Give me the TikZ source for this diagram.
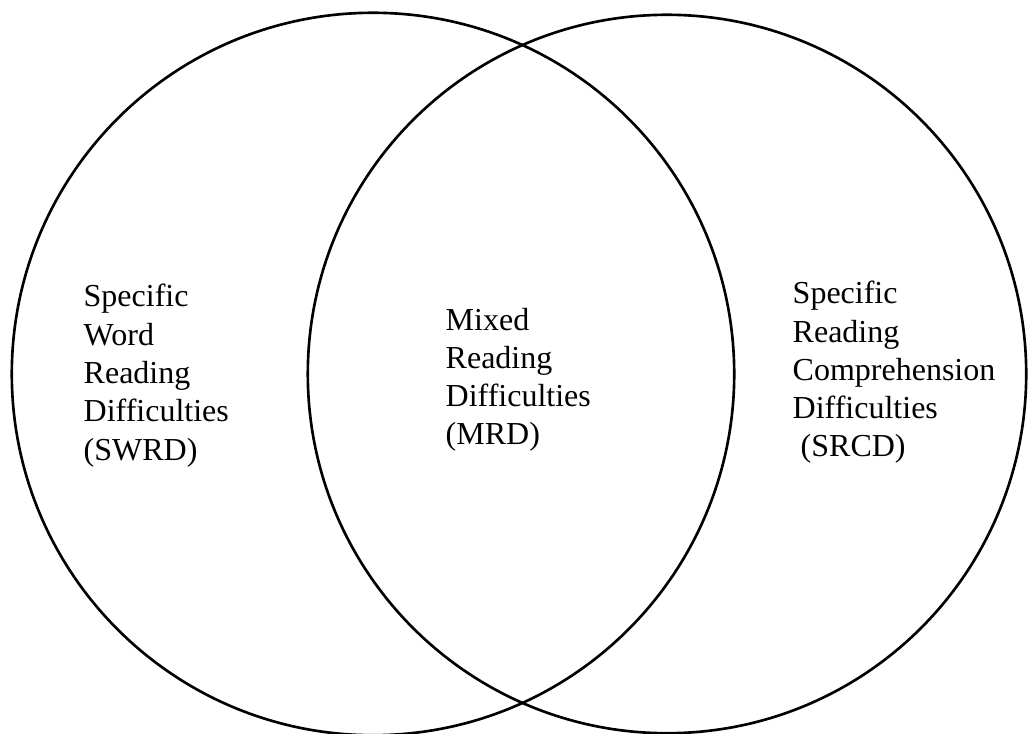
\documentclass[tikz,border=0pt]{standalone}
\usepackage{fontspec}
\setmainfont{Liberation Serif}
\usepackage{tikz}

\begin{document}
\begin{tikzpicture}[x=0.01cm,y=-0.01cm,
    set/.style={line width=0.75pt},
    setlabel/.style={anchor=base west,align=left,inner sep=0pt,
      font=\fontsize{9.1}{10.9}\selectfont}]
    \useasboundingbox (0,0) rectangle (1028,734);
    \draw[set] (373,374) circle [radius=3.61cm];
    \draw[set] (667,374) circle [radius=3.59cm];
    \node[setlabel] (swrd) at (83,460)
      {Specific\\Word\\Reading\\Difficulties\\(SWRD)};
    \node[setlabel] (mrd) at (445,445)
      {Mixed\\Reading\\Difficulties\\(MRD)};
    \node[setlabel] (srcd) at (792,457)
      {Specific\\Reading\\Comprehension\\Difficulties\\\ (SRCD)};
  \end{tikzpicture}
\end{document}
